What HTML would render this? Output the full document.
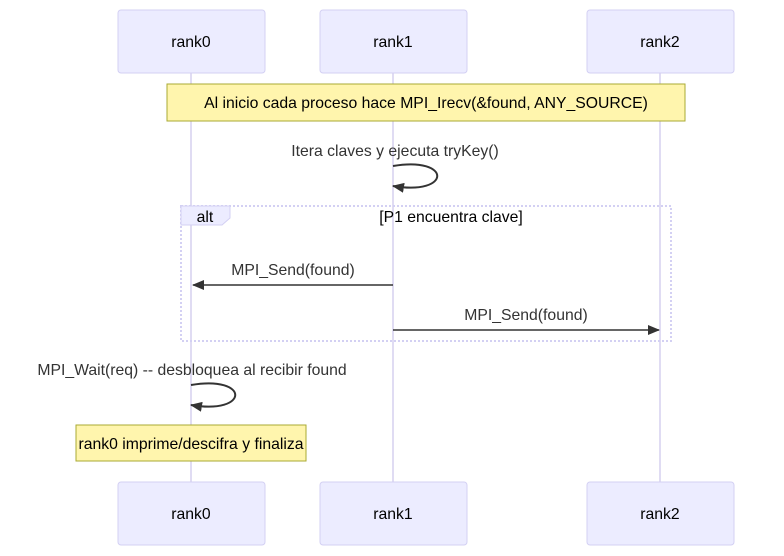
<!DOCTYPE html>
<html><head><meta charset="utf-8"><style>
html,body{margin:0;padding:0;background:#fff;}
svg{display:block;font-family:"Liberation Sans",Arial,sans-serif;}
</style></head><body>
<svg width="784" height="556" viewBox="0 0 784 556" xmlns="http://www.w3.org/2000/svg">
<defs>
<marker id="ah" viewBox="0 0 12 12" refX="11" refY="6" markerWidth="12" markerHeight="12" orient="auto" markerUnits="userSpaceOnUse">
<path d="M0,1 L12,6 L0,11 z" fill="#333"/></marker>
</defs>
<g stroke="#e0dcf3" stroke-width="2">
<line x1="191" y1="73" x2="191" y2="482"/>
<line x1="393" y1="73" x2="393" y2="482"/>
<line x1="660" y1="73" x2="660" y2="482"/>
</g>
<g fill="#ececff" stroke="#d3d0f3" stroke-width="1">
<rect x="118" y="10" width="147" height="63" rx="3"/>
<rect x="320" y="10" width="147" height="63" rx="3"/>
<rect x="587" y="10" width="147" height="63" rx="3"/>
<rect x="118" y="482" width="147" height="63" rx="3"/>
<rect x="320" y="482" width="147" height="63" rx="3"/>
<rect x="587" y="482" width="147" height="63" rx="3"/>
</g>
<g font-size="15.75" text-anchor="middle" fill="#000">
<text x="191" y="47">rank0</text>
<text x="393" y="47">rank1</text>
<text x="660" y="47">rank2</text>
<text x="191" y="519">rank0</text>
<text x="393" y="519">rank1</text>
<text x="660" y="519">rank2</text>
</g>
<g font-size="15.75" text-anchor="middle">
<rect x="167" y="84" width="518" height="37" fill="#fff5ad" stroke="#aaaa33"/>
<text x="426" y="108">Al inicio cada proceso hace MPI_Irecv(&amp;found, ANY_SOURCE)</text>
<text x="395" y="156" fill="#333">Itera claves y ejecuta tryKey()</text>
<path d="M393,166 C452,156 452,196 393,186" fill="none" stroke="#333" stroke-width="2" marker-end="url(#ah)"/>
<rect x="181" y="206" width="490" height="135" fill="none" stroke="#d3d0f3" stroke-width="2" stroke-dasharray="2,2"/>
<path d="M181,206 L230,206 L230,218 L222,225 L181,225 z" fill="#ececff" stroke="#d3d0f3"/>
<text x="205" y="222">alt</text>
<text x="451" y="222">[P1 encuentra clave]</text>
<text x="293" y="275" fill="#333">MPI_Send(found)</text>
<line x1="393" y1="285" x2="193" y2="285" stroke="#333" stroke-width="1.5" marker-end="url(#ah)"/>
<text x="526" y="320" fill="#333">MPI_Send(found)</text>
<line x1="393" y1="330" x2="659" y2="330" stroke="#333" stroke-width="1.5" marker-end="url(#ah)"/>
<text x="192" y="375" fill="#333">MPI_Wait(req) -- desbloquea al recibir found</text>
<path d="M191,385 C250,375 250,415 191,405" fill="none" stroke="#333" stroke-width="2" marker-end="url(#ah)"/>
<rect x="76" y="425" width="230" height="36" fill="#fff5ad" stroke="#aaaa33"/>
<text x="191" y="449">rank0 imprime/descifra y finaliza</text>
</g>
</svg>
</body></html>
